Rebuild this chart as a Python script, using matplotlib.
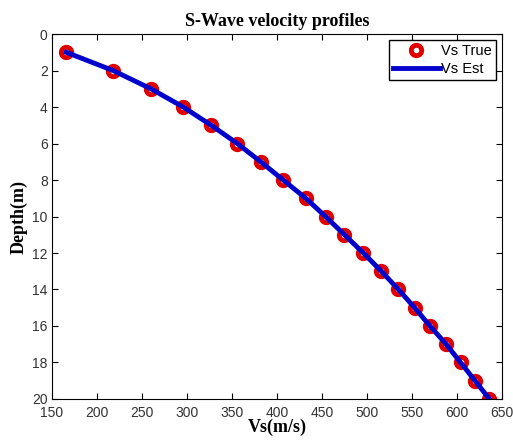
import matplotlib
matplotlib.use("Agg")
from matplotlib import pyplot as plt

depth = list(range(1, 21))
vs_true = [166, 218, 260, 296, 327, 356, 382, 407, 432, 454,
           475, 496, 516, 535, 553, 570, 588, 604, 620, 636]
vs_est = [166, 218, 260, 296, 327, 356, 382, 407, 432, 454,
          475, 496, 516, 535, 553, 570, 588, 604, 620, 636]
xticks = list(range(150, 651, 50))
yticks = list(range(0, 21, 2))


def main():
    plt.rcParams["font.family"] = "Liberation Sans"
    fig = plt.figure(figsize=(5.13, 4.47), dpi=100)
    ax = fig.add_axes([0.101, 0.1074, 0.8776, 0.8165])

    ax.plot(vs_true, depth, linestyle="none", marker="o", markersize=7.5,
            markerfacecolor="white", markeredgecolor="#e00000",
            markeredgewidth=3.5, label="Vs True")
    ax.plot(vs_est, depth, color="#0000cc", linewidth=3.5, label="Vs Est")

    ax.set_xlim(150, 650)
    ax.set_ylim(20, 0)
    ax.set_xticks(xticks)
    ax.set_yticks(yticks)
    ax.tick_params(direction="in", top=True, right=True, labelsize=10,
                   length=4, labelcolor="#333333")
    ax.tick_params(axis="x", pad=5)
    ax.tick_params(axis="y", pad=3)
    for s in ax.spines.values():
        s.set_linewidth(0.8)

    serif = {"family": "Liberation Serif", "weight": "bold"}
    ax.set_title("S-Wave velocity profiles", fontdict=serif, fontsize=13, pad=6)
    ax.set_xlabel("Vs(m/s)", fontdict=serif, fontsize=13, labelpad=-1)
    ax.set_ylabel("Depth(m)", fontdict=serif, fontsize=13, labelpad=3)

    ax.legend(loc="upper right", fontsize=10.5, fancybox=False, edgecolor="black",
              framealpha=1, borderaxespad=0.4, handlelength=3.2,
              handletextpad=0.1, labelspacing=0.25, borderpad=0.3)

    fig.savefig("out.png", dpi=100)


if __name__ == "__main__":
    main()
